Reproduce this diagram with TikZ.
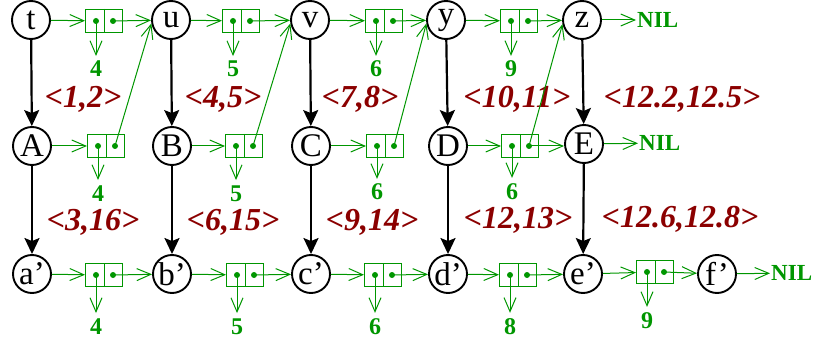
\documentclass[tikz,border=0pt]{standalone}
\usepackage{fontspec}
\setmainfont{Liberation Serif}
\usetikzlibrary{arrows.meta,calc}
\definecolor{gcol}{RGB}{0,150,0}
\definecolor{rcol}{RGB}{139,0,0}
\tikzset{
 vert/.style={circle,draw,line width=1.9pt,minimum size=38pt,inner sep=0pt,font=\fontsize{33}{33}\selectfont},
 cellbox/.style={draw=gcol,line width=1pt,minimum width=37pt,minimum height=23pt,inner sep=0pt},
 gline/.style={gcol,line width=1pt},
 garr/.style={gcol,line width=1pt,-{Straight Barb[length=14pt,width=12pt]}},
 barr/.style={line width=2.2pt,-{Stealth[length=16pt,width=15pt,inset=3pt]}},
 num/.style={text=gcol,font=\bfseries\fontsize{24}{24}\selectfont,inner sep=0pt,anchor=base},
 nil/.style={text=gcol,font=\bfseries\fontsize{23}{23}\selectfont,inner sep=1pt,anchor=west},
 lab/.style={text=rcol,font=\bfseries\itshape\fontsize{32}{32}\selectfont,inner sep=0pt,anchor=base},
}
\newcommand\cellat[3]{%
 \node[cellbox] (#1) at (#2,#3) {};
 \draw[gline] (#1.north) -- (#1.south);
 \coordinate (#1-l) at ($(#1.center)+(-8pt,0pt)$);
 \coordinate (#1-r) at ($(#1.center)+(9pt,0pt)$);
 \fill[gcol] (#1-l) circle (3pt) (#1-r) circle (3pt);
}
\newcommand\numat[4]{%
 \node[num] (#1) at (#2,#3) {#4};
}
\begin{document}
\begin{tikzpicture}[x=1pt,y=-1pt]
\useasboundingbox (0,0) rectangle (813,339);
% top row
\node[vert] (t) at (31,20) {t};
\node[vert] (u) at (171,20) {u};
\node[vert] (v) at (310,20) {v};
\node[vert] (y) at (446,20) {y};
\node[vert] (z) at (582,20) {z};
\cellat{t1}{104}{21}
\cellat{t2}{241}{21}
\cellat{t3}{384}{21}
\cellat{t4}{519}{21}
\node[nil] (nil1) at (636,20) {NIL};
% middle row
\node[vert] (A) at (32,146) {A};
\node[vert] (B) at (172,146) {B};
\node[vert] (C) at (311,146) {C};
\node[vert] (D) at (448,146) {D};
\node[vert] (E) at (584,144) {E};
\cellat{m1}{106}{146}
\cellat{m2}{244}{146}
\cellat{m3}{385}{146}
\cellat{m4}{520}{146}
\node[nil] (nil2) at (638,143) {NIL};
% bottom row
\node[vert] (a) at (32,274) {a’};
\node[vert] (b) at (172,274) {b’};
\node[vert] (c) at (311,274) {c’};
\node[vert] (d) at (448,274) {d’};
\node[vert] (e) at (583,274) {e’};
\node[vert] (f) at (717,274) {f’};
\cellat{b1}{104}{275}
\cellat{b2}{245}{275}
\cellat{b3}{383}{275}
\cellat{b4}{518}{275}
\cellat{b5}{655}{272}
\node[nil] (nil3) at (770,273) {NIL};
% numbers
\numat{nt1}{96}{77}{4}
\numat{nt2}{233}{77}{5}
\numat{nt3}{376}{77}{6}
\numat{nt4}{511}{77}{9}
\numat{nm1}{98}{201}{4}
\numat{nm2}{236}{201}{5}
\numat{nm3}{377}{200}{6}
\numat{nm4}{512}{199}{6}
\numat{nb1}{96}{334}{4}
\numat{nb2}{237}{334}{5}
\numat{nb3}{375}{334}{6}
\numat{nb4}{510}{334}{8}
\numat{nb5}{647}{328}{9}
\foreach \c in {t1,t2,t3,t4,m1,m2,m3,m4,b1,b2,b3,b4,b5}{
  \draw[garr,shorten >=5pt] (\c-l) -- (\c-l |- n\c.north);
}
% red labels
\node[lab] (l1) at (83,108) {<1,2>};
\node[lab] (l2) at (223,108) {<4,5>};
\node[lab] (l3) at (360,108) {<7,8>};
\node[lab] (l4) at (517,108) {<10,11>};
\node[lab] (l5) at (682,108) {<12.2,12.5>};
\node[lab] (l6) at (93,230) {<3,16>};
\node[lab] (l7) at (233,230) {<6,15>};
\node[lab] (l8) at (372,230) {<9,14>};
\node[lab] (l9) at (518,228) {<12,13>};
\node[lab] (l10) at (680,227) {<12.6,12.8>};
% black arrows
\foreach \p/\q in {t/A,u/B,v/C,y/D,z/E,A/a,B/b,C/c,D/d,E/e}{
  \draw[barr] (\p) -- (\q);
}
% green chains top
\draw[garr] (t) -- (t1);
\draw[garr] (t1-r) -- (u);
\draw[garr] (u) -- (t2);
\draw[garr] (t2-r) -- (v);
\draw[garr] (v) -- (t3);
\draw[garr] (t3-r) -- (y);
\draw[garr] (y) -- (t4);
\draw[garr] (t4-r) -- (z);
\draw[garr] (z) -- (nil1);
% middle
\draw[garr] (A) -- (m1);
\draw[garr] (m1-r) -- (u.190);
\draw[garr] (B) -- (m2);
\draw[garr] (m2-r) -- (v.190);
\draw[garr] (C) -- (m3);
\draw[garr] (m3-r) -- (y.190);
\draw[garr] (D) -- (m4);
\draw[garr] (m4-r) -- (z.192);
\draw[garr] (m4-r) -- (m4-r -| E.west);
\draw[garr] (E) -- (nil2);
% bottom
\draw[garr] (a) -- (b1);
\draw[garr] (b1-r) -- (b);
\draw[garr] (b) -- (b2);
\draw[garr] (b2-r) -- (c);
\draw[garr] (c) -- (b3);
\draw[garr] (b3-r) -- (d);
\draw[garr] (d) -- (b4);
\draw[garr] (b4-r) -- (e);
\draw[garr] (e) -- (b5);
\draw[garr] (b5-r) -- (f);
\draw[garr] (f) -- (nil3);
\end{tikzpicture}
\end{document}
